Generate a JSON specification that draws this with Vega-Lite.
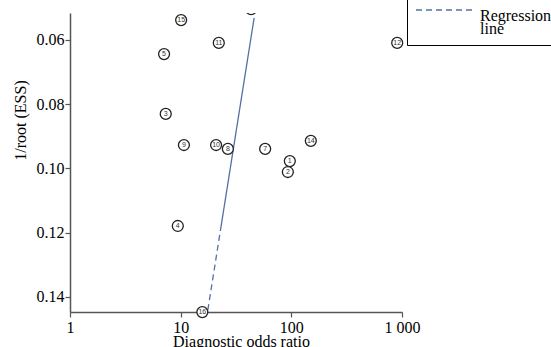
{
  "$schema": "https://vega.github.io/schema/vega-lite/v6.json",
  "autosize": {"type": "none"},
  "width": 332,
  "height": 299,
  "padding": {"left": 70, "top": 13, "right": 149, "bottom": 35},
  "background": "white",
  "config": {
    "view": {"stroke": null},
    "font": "Liberation Serif",
    "axis": {
      "grid": false,
      "domainColor": "#555555",
      "domainWidth": 1.5,
      "tickColor": "#555555",
      "tickWidth": 1.2,
      "tickSize": 5,
      "labelFont": "Liberation Serif",
      "labelFontSize": 16,
      "labelColor": "black",
      "titleFont": "Liberation Serif",
      "titleFontSize": 16,
      "titleFontWeight": "normal",
      "titleColor": "black"
    }
  },
  "datasets": {
    "points": [
      {"id": "1", "dor": 96.9, "ress": 0.0977},
      {"id": "2", "dor": 93.0, "ress": 0.1011},
      {"id": "3", "dor": 7.33, "ress": 0.0830},
      {"id": "4", "dor": 9.42, "ress": 0.1179},
      {"id": "5", "dor": 7.08, "ress": 0.0644},
      {"id": "7", "dor": 58.0, "ress": 0.0939},
      {"id": "8", "dor": 26.7, "ress": 0.0939},
      {"id": "9", "dor": 10.7, "ress": 0.0927},
      {"id": "10", "dor": 20.9, "ress": 0.0927},
      {"id": "11", "dor": 22.1, "ress": 0.0609},
      {"id": "12", "dor": 905, "ress": 0.0609},
      {"id": "14", "dor": 150, "ress": 0.0914},
      {"id": "15", "dor": 10.1, "ress": 0.0538},
      {"id": "16", "dor": 15.7, "ress": 0.1447}
    ],
    "top": [
      {"id": "6", "dor": 43.3, "ress": 0.0504}
    ],
    "reg": [
      {"seg": "solid", "dor": 46.1, "ress": 0.05315},
      {"seg": "solid", "dor": 22.9, "ress": 0.11914},
      {"seg": "dashed", "dor": 22.9, "ress": 0.11914},
      {"seg": "dashed", "dor": 17.6, "ress": 0.14405}
    ]
  },
  "encoding": {
    "x": {
      "field": "dor", "type": "quantitative",
      "scale": {"type": "log", "domain": [1, 1000], "nice": false},
      "axis": {
        "title": "Diagnostic odds ratio",
        "values": [1, 10, 100, 1000],
        "labelExpr": "datum.value == 1000 ? '1 000' : datum.label",
        "labelFlush": false,
        "titleX": 171,
        "titleY": 34,
        "titleBaseline": "alphabetic"
      }
    },
    "y": {
      "field": "ress", "type": "quantitative",
      "scale": {"domain": [0.0516, 0.14467], "reverse": true, "nice": false, "zero": false},
      "axis": {
        "title": "1/root (ESS)",
        "values": [0.06, 0.08, 0.10, 0.12, 0.14],
        "format": ".2f",
        "labelPadding": 1,
        "titleX": -50,
        "titleY": 107,
        "titleBaseline": "middle"
      }
    }
  },
  "layer": [
    {
      "data": {"name": "reg"},
      "mark": {"type": "line", "strokeWidth": 1.3, "clip": false},
      "encoding": {
        "detail": {"field": "seg"},
        "strokeDash": {
          "field": "seg", "type": "nominal",
          "scale": {"domain": ["dashed", "solid"], "range": [[6, 4], [1, 0]]},
          "legend": null
        },
        "color": {
          "datum": "Regression line",
          "type": "nominal",
          "scale": {"range": ["#5470a3"]},
          "legend": {
            "orient": "none",
            "legendX": 337,
            "legendY": -42,
            "title": null,
            "strokeColor": "black",
            "padding": 8,
            "symbolType": "stroke",
            "symbolSize": 3600,
            "symbolStrokeWidth": 1.5,
            "symbolDash": [6, 4],
            "labelFont": "Liberation Serif",
            "labelFontSize": 16,
            "labelColor": "black",
            "labelExpr": "['Regression', 'line']",
            "labelOffset": 3,
            "labelLimit": 0,
            "encode": {"labels": {"update": {"lineHeight": {"value": 13}, "dy": {"value": 6}}}}
          }
        }
      }
    },
    {
      "data": {"name": "points"},
      "mark": {"type": "point", "shape": "circle", "filled": true, "fill": "white", "stroke": "#222222", "strokeWidth": 1.3, "size": 120, "opacity": 1, "clip": false}
    },
    {
      "data": {"name": "points"},
      "mark": {"type": "text", "font": "Liberation Sans", "fontSize": 7, "color": "#333333", "clip": false},
      "encoding": {"text": {"field": "id"}}
    },
    {
      "data": {"name": "top"},
      "mark": {"type": "point", "shape": "circle", "filled": true, "fill": "white", "stroke": "#222222", "strokeWidth": 1.3, "size": 120, "opacity": 1, "clip": true}
    },
    {
      "data": {"name": "top"},
      "mark": {"type": "text", "font": "Liberation Sans", "fontSize": 7, "color": "#333333", "clip": true},
      "encoding": {"text": {"field": "id"}}
    }
  ]
}
